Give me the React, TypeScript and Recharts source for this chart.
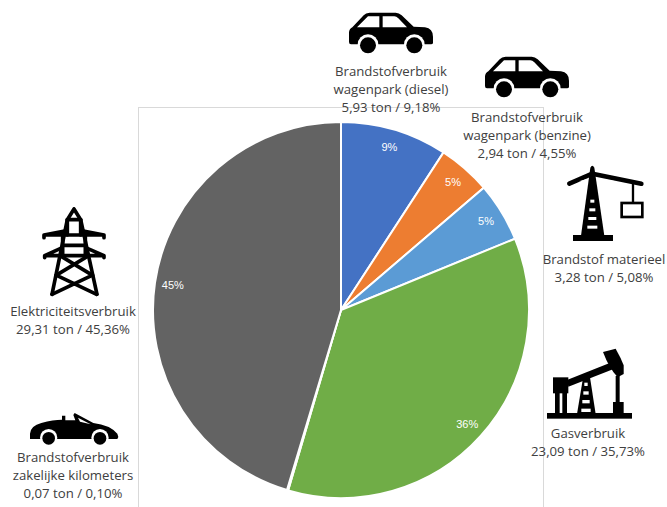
import React from "react";
import { PieChart, Pie, Cell } from "recharts";

const categories = [
  "Brandstofverbruik wagenpark (diesel)",
  "Brandstofverbruik wagenpark (benzine)",
  "Brandstof materieel",
  "Gasverbruik",
  "Brandstofverbruik zakelijke kilometers",
  "Elektriciteitsverbruik",
];
const shares = [9.18, 4.55, 5.08, 35.73, 0.1, 45.36];
const colors = ["#4472C4", "#ED7D31", "#5B9BD5", "#70AD47", "#FFC000", "#636363"];
const chartData = categories.map((name, i) => ({ name, value: shares[i] }));

const captions: { x: number; y: number; lines: string[] }[] = [
  { x: 391, y: 71, lines: ["Brandstofverbruik", "wagenpark (diesel)", "5,93 ton / 9,18%"] },
  { x: 527, y: 117, lines: ["Brandstofverbruik", "wagenpark (benzine)", "2,94 ton / 4,55%"] },
  { x: 604, y: 259, lines: ["Brandstof materieel", "3,28 ton / 5,08%"] },
  { x: 588, y: 433, lines: ["Gasverbruik", "23,09 ton / 35,73%"] },
  { x: 73, y: 311, lines: ["Elektriciteitsverbruik", "29,31 ton / 45,36%"] },
  { x: 73, y: 457, lines: ["Brandstofverbruik", "zakelijke kilometers", "0,07 ton / 0,10%"] },
];

const RAD = Math.PI / 180;
const renderLabel = (p: any) => {
  if (p.percent < 0.01) return null;
  const r = p.outerRadius - 18;
  const x = p.cx + r * Math.cos(-p.midAngle * RAD);
  const y = p.cy + r * Math.sin(-p.midAngle * RAD);
  return (
    <text x={x} y={y} fill="#fff" fontSize={11} fontFamily="Liberation Sans" textAnchor="middle" dominantBaseline="central">
      {`${Math.round(p.percent * 100)}%`}
    </text>
  );
};

const Car = ({ x, y }: { x: number; y: number }) => (
  <g transform={`translate(${x} ${y}) scale(0.3333)`}>
    <path d="M0 62 Q0 52 10 46 L44 10 Q50 2 62 2 L140 2 Q150 2 158 10 L194 44 L228 46 Q252 50 252 74 L252 92 Q252 97 246 97 L6 97 Q0 97 0 90 Z" fill="#000" />
    <path d="M24 46 L57 13 L91 13 L91 46 Z M101 13 L136 13 Q142 13 148 19 L174 46 L101 46 Z" fill="#fff" />
    <circle cx="57" cy="98" r="31" fill="#fff" />
    <circle cx="57" cy="100" r="24" fill="#000" />
    <circle cx="196" cy="98" r="31" fill="#fff" />
    <circle cx="196" cy="100" r="24" fill="#000" />
  </g>
);

const Crane = ({ x, y }: { x: number; y: number }) => (
  <g transform={`translate(${x} ${y}) scale(0.3333)`}>
    <path d="M70 8 Q76 -4 82 8 L112 212 L42 212 Z" fill="#000" />
    <path d="M18 210 H138 V228 H18 Z" fill="#000" />
    <path d="M7 56 L76 26 L223 56" fill="none" stroke="#000" strokeWidth="14" strokeLinecap="round" strokeLinejoin="round" />
    <path d="M92 40 L142 48 L92 48 Z" fill="#fff" />
    <path d="M60 42 L36 49 L60 49 Z" fill="#fff" />
    <path d="M198 56 V114" stroke="#000" strokeWidth="7" />
    <rect x="164" y="114" width="62" height="42" fill="#fff" stroke="#000" strokeWidth="8" />
    {[104, 130, 156, 182].map((t, i) => (
      <rect key={t} x={70 - i * 3} y={t} width={12 + i * 6} height={9} fill="#fff" />
    ))}
  </g>
);

const Pylon = ({ x, y }: { x: number; y: number }) => (
  <g transform={`translate(${x} ${y}) scale(0.3333)`} fill="none" stroke="#000" strokeWidth="11" strokeLinejoin="round" strokeLinecap="round">
    <path d="M96 6 L76 38 L30 262 M96 6 L116 38 L165 262" />
    <path d="M76 38 H116 M68 72 L6 84 V92 M124 72 L186 84 V92 M6 84 H186 M56 124 L8 146 V152 M136 124 L186 146 V152 M8 146 H186 M64 115 H128" />
    <path d="M76 38 V84 M116 38 V84 M62 84 V146 M130 84 V146" />
    <path d="M54 146 L152 205 M140 146 L42 205 M44 205 L164 262 M150 205 L30 262" />
  </g>
);

const Pumpjack = ({ x, y }: { x: number; y: number }) => (
  <g transform={`translate(${x} ${y}) scale(0.3333)`} fill="#000">
    <rect x="0" y="195" width="255" height="17" />
    <rect x="18" y="88" width="46" height="48" />
    <rect x="24" y="130" width="14" height="68" />
    <rect x="46" y="130" width="14" height="68" />
    <path d="M60 96 L190 44 L198 64 L64 116 Z" />
    <path d="M168 12 L206 2 Q222 30 230 52 L230 78 L212 88 Q186 60 168 12 Z" />
    <rect x="206" y="84" width="12" height="82" />
    <rect x="198" y="162" width="32" height="36" />
    <path d="M108 90 L128 82 L146 198 L90 198 Z" />
    {[104, 130, 156, 182].map((t, i) => (
      <rect key={t} x={112 - i * 3} y={t} width={10 + i * 6} height={10} fill="#fff" />
    ))}
  </g>
);

const Convertible = ({ x, y }: { x: number; y: number }) => (
  <g transform={`translate(${x} ${y}) scale(0.3333)`}>
    <path d="M0 62 Q2 38 34 30 Q70 20 96 20 L96 8 L106 8 L106 22 L136 22 L130 6 L134 0 L190 30 Q240 36 262 62 L265 72 L262 78 L0 78 Z" fill="#000" />
    <path d="M144 14 L182 34 L150 26 Z" fill="#fff" />
    <circle cx="56" cy="74" r="26" fill="#fff" />
    <circle cx="56" cy="76" r="19" fill="#000" />
    <circle cx="210" cy="74" r="26" fill="#fff" />
    <circle cx="210" cy="76" r="19" fill="#000" />
  </g>
);

export default function App() {
  return (
    <div style={{ position: "absolute", left: 0, top: 0, width: 667, height: 507, background: "#fff", overflow: "hidden" }}>
      <div
        style={{
          position: "absolute",
          left: 138,
          top: 107,
          width: 404,
          height: 420,
          borderTop: "1.5px solid #D9D9D9",
          borderLeft: "1.5px solid #D9D9D9",
          borderRight: "1.5px solid #D9D9D9",
        }}
      />
      <div style={{ position: "absolute", left: 0, top: 0 }}>
        <PieChart width={667} height={507} margin={{ top: 0, right: 0, bottom: 0, left: 0 }}>
          <Pie
            data={chartData}
            dataKey="value"
            nameKey="name"
            cx={341}
            cy={310}
            innerRadius={0}
            outerRadius={188}
            startAngle={90}
            endAngle={-270}
            stroke="#fff"
            strokeWidth={2}
            label={renderLabel}
            labelLine={false}
            isAnimationActive={false}
          >
            {chartData.map((d, i) => (
              <Cell key={d.name} fill={colors[i]} />
            ))}
          </Pie>
        </PieChart>
      </div>
      <svg width={667} height={507} style={{ position: "absolute", left: 0, top: 0 }}>
        <Car x={349} y={12} />
        <Car x={485} y={56} />
        <Crane x={567} y={165} />
        <Pylon x={42} y={207} />
        <Pumpjack x={547} y={348} />
        <Convertible x={30} y={413} />
        {captions.map((c) => (
          <text key={c.lines[0] + c.x} fontFamily="Open Sans" fontSize={13.2} fill="#404040" textAnchor="middle">
            {c.lines.map((l, i) => (
              <tspan key={l} x={c.x} y={c.y + i * 18.2} dominantBaseline="central">
                {l}
              </tspan>
            ))}
          </text>
        ))}
      </svg>
    </div>
  );
}
